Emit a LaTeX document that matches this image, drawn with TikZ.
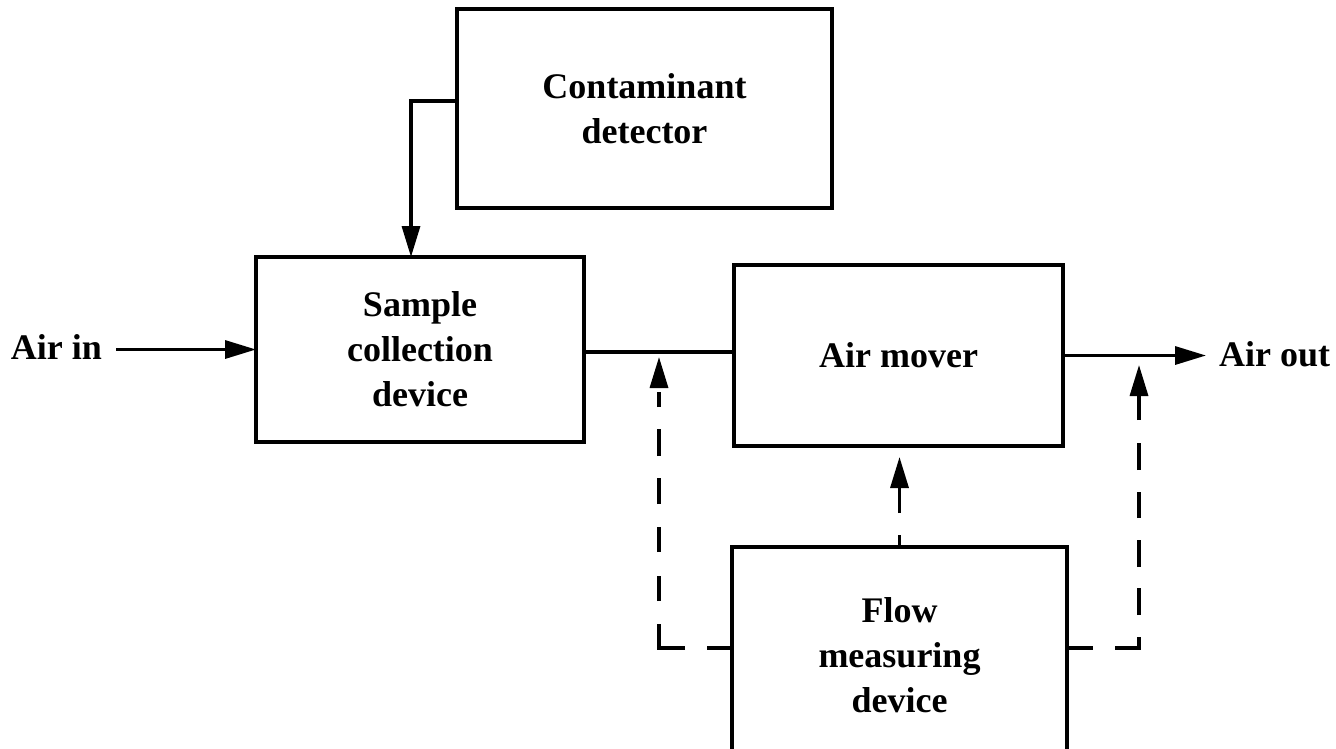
\documentclass[tikz,border=0pt]{standalone}
\usepackage{fontspec}
\setmainfont{Liberation Serif}
\usetikzlibrary{arrows.meta}
\begin{document}
\begin{tikzpicture}[x=1pt,y=-1pt,
  box/.style={draw,line width=3.3pt,rectangle,outer sep=0pt,align=center,
    font=\fontsize{36}{45}\selectfont\bfseries},
  lbl/.style={font=\fontsize{36}{45}\selectfont\bfseries,inner sep=0pt},
  conn/.style={line width=3.3pt},
  arrowline/.style={line width=3.3pt,-{Triangle[length=31pt,width=18pt]}},
  dasharrow/.style={line width=3.3pt,-{Triangle[length=31pt,width=18pt]}}]
\clip (0,0) rectangle (1336,748);
\useasboundingbox (0,0) rectangle (1336,748);
\fill[white] (0,0) rectangle (1336,748);

\node[box,minimum width=375pt,minimum height=199pt] (cd) at (644.5,108.5) {Contaminant\\detector};
\node[box,minimum width=328pt,minimum height=185pt] (sc) at (420,349.5) {Sample\\collection\\device};
\node[box,minimum width=329pt,minimum height=181pt] (am) at (898.5,355.5) {Air mover};
\node[box,minimum width=335pt,minimum height=216pt] (fm) at (899.5,655) {Flow\\measuring\\device};

\node[lbl,anchor=base east,inner xsep=14pt] (airin) at (116,359) {Air in};
\node[lbl,anchor=base west,inner xsep=13pt] (airout) at (1206,366) {Air out};

\coordinate (cdout) at (457,101);
\coordinate (mid) at (659,352);
\coordinate (lt) at (659,357);
\coordinate (rt) at (1139,365);
\coordinate (dy) at (0,648);

% contaminant detector to sample collection
\draw[arrowline] (cdout) -| ([xshift=-9pt]sc.north);
% air in
\draw[arrowline] (airin.east |- sc.west) -- (sc.west);
% sample to air mover
\draw[conn] (sc.east |- mid) -- (am.west |- mid);
% air out
\draw[arrowline] (am.east) -- (airout.west |- am.east);
% dashed flow measurements
\draw[dasharrow,dash pattern=on 25pt off 22pt on 50pt off 23pt on 25pt off 24pt on 25pt off 23pt on 26pt off 22pt on 27pt off 22pt on 15pt off 30pt]
  (fm.west |- dy) -| (lt);
\draw[dasharrow,dash pattern=on 12pt off 22pt on 40pt off 10pt]
  (fm.north) -- (fm.north |- 0,457);
\draw[dasharrow,dash pattern=on 26pt off 22pt on 35pt off 22pt on 27pt off 21pt on 27pt off 22pt on 26pt off 22pt on 27pt off 23pt on 40pt off 10pt]
  (fm.east |- dy) -| (rt);
\end{tikzpicture}
\end{document}
